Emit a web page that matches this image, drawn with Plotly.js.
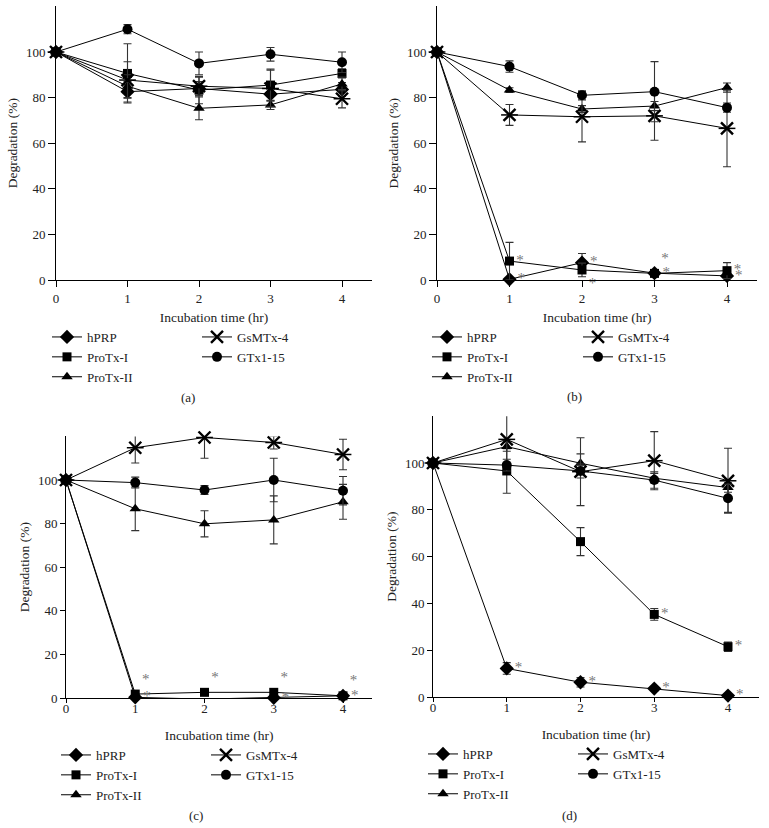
<!DOCTYPE html>
<html><head><meta charset="utf-8">
<script src="https://cdn.plot.ly/plotly-3.0.1.min.js"></script>
<style>html,body{margin:0;padding:0;background:#fff}#chart{width:769px;height:828px}</style>
</head><body><div id="chart"></div>
<script>
// ---------------- DATA ----------------
const times = [0, 1, 2, 3, 4];
const seriesNames = ['hPRP', 'ProTx-I', 'ProTx-II', 'GsMTx-4', 'GTx1-15'];
const panelLabels = ['(a)', '(b)', '(c)', '(d)'];
const xTitle = 'Incubation time (hr)';
const yTitle = 'Degradation (%)';
const yTicks = [0, 20, 40, 60, 80, 100];

// panel (a)
const a_hPRP      = [100, 82.6, 84.0, 81.5, 83.6];
const a_hPRP_err  = [0, 4.5, 3, 3, 3];
const a_ProTxI    = [100, 90.6, 83.3, 85.5, 90.6];
const a_ProTxI_err= [0, 13, 6, 7, 2];
const a_ProTxII   = [100, 85.0, 75.3, 76.8, 86.0];
const a_ProTxII_err=[0, 5, 5, 2, 3];
const a_GsMTx4    = [100, 87.7, 85.0, 84.0, 79.5];
const a_GsMTx4_err= [0, 8, 4, 8, 4];
const a_GTx       = [100, 110.0, 95.0, 99.0, 95.5];
const a_GTx_err   = [0, 2, 5, 3, 4.5];
const a_hPRP_sig  = ['', '', '', '', ''];
const a_ProTxI_sig= ['', '', '', '', ''];

// panel (b)
const b_hPRP      = [100, 0.3, 7.6, 3.0, 1.8];
const b_hPRP_err  = [0, 0, 4, 0.5, 1];
const b_ProTxI    = [100, 8.3, 4.4, 2.9, 4.1];
const b_ProTxI_err= [0, 8.2, 3, 0.5, 3.5];
const b_ProTxII   = [100, 83.3, 75.0, 76.3, 84.4];
const b_ProTxII_err=[0, 1, 1.5, 2, 2];
const b_GsMTx4    = [100, 72.4, 71.6, 72.0, 66.5];
const b_GsMTx4_err= [0, 4.6, 11, 10.7, 16.8];
const b_GTx       = [100, 93.6, 81.0, 82.6, 75.6];
const b_GTx_err   = [0, 2.5, 2, 13.2, 2];
const b_hPRP_sig  = ['', '*', '*', '*', '*'];
const b_ProTxI_sig= ['', '*', '*', '*', '*'];

// panel (c)
const c_hPRP      = [100, 0.3, -0.5, 0.1, 1.0];
const c_hPRP_err  = [0, 0, 0, 0, 0];
const c_ProTxI    = [100, 1.8, 2.6, 2.6, 1.0];
const c_ProTxI_err= [0, 0, 0, 0, 0];
const c_ProTxII   = [100, 86.8, 79.9, 81.7, 90.0];
const c_ProTxII_err=[0, 10, 6, 11, 8];
const c_GsMTx4    = [100, 114.8, 119.5, 117.2, 111.7];
const c_GsMTx4_err= [0, 7, 9.5, 3, 7];
const c_GTx       = [100, 98.8, 95.4, 100.0, 95.1];
const c_GTx_err   = [0, 2.5, 2, 10, 6.5];
const c_hPRP_sig  = ['', '*', '*', '*', '*'];
const c_ProTxI_sig= ['', '*', '*', '*', '*'];

// panel (d)
const d_hPRP      = [100, 12.2, 6.3, 3.6, 0.6];
const d_hPRP_err  = [0, 2.5, 2, 1, 0.5];
const d_ProTxI    = [100, 96.6, 66.4, 35.3, 21.5];
const d_ProTxI_err= [0, 9.5, 6, 2.5, 2];
const d_ProTxII   = [100, 107.0, 99.9, 93.5, 89.5];
const d_ProTxII_err=[0, 2, 4, 2, 2];
const d_GsMTx4    = [100, 110.1, 96.3, 101.0, 92.4];
const d_GsMTx4_err= [0, 10.3, 14.5, 12.4, 13.9];
const d_GTx       = [100, 99.1, 96.6, 92.7, 84.9];
const d_GTx_err   = [0, 2.5, 3, 3.5, 6];
const d_hPRP_sig  = ['', '*', '*', '*', '*'];
const d_ProTxI_sig= ['', '', '', '*', '*'];

// ---------------- STYLE / LAYOUT ----------------
const W = 769, H = 828;
const FONT = 'Liberation Serif, Times New Roman, serif';
const symbols = ['diamond', 'square', 'triangle-up', 'x-thin-open', 'circle'];
const msizes  = [11, 9, 10, 12, 10];

// star positions (style) per panel: [hPRP, ProTx-I]
const starPos = [
  [['middle right','middle right','middle right','middle right','middle right'],
   ['middle right','middle right','middle right','middle right','middle right']],
  [['middle right','middle right','middle right','middle right','middle right'],
   ['middle right','middle right','bottom right','top right','middle right']],
  [['middle right','middle right','middle right','middle right','middle right'],
   ['top right','top right','top right','top right','top right']],
  [['middle right','middle right','middle right','middle right','middle right'],
   ['middle right','middle right','middle right','middle right','middle right']]
];

// pixel geometry of each panel
const geo = [
  {x0: 56,  ux: 71.5,  y0: 280, uy: 2.28, xtl: 6, ytl: 7, xls: 0,  xstand: 7,  ystand: 5, legL: 68,  legR: 218, legY: 341, lab: [188, 397]},
  {x0: 437, ux: 72.5,  y0: 280, uy: 2.28, xtl: 6, ytl: 7, xls: 0,  xstand: 7,  ystand: 5, legL: 448, legR: 599, legY: 341, lab: [574, 396]},
  {x0: 66,  ux: 69.25, y0: 698, uy: 2.18, xtl: 4, ytl: 5, xls: -6, xstand: 15, ystand: 5, legL: 77,  legR: 227, legY: 759, lab: [196, 815]},
  {x0: 433, ux: 73.75, y0: 697, uy: 2.34, xtl: 4, ytl: 5, xls: -6, xstand: 15, ystand: 5, legL: 444, legR: 594, legY: 758, lab: [569, 815]}
];
const XMAX = 4.42, YMAX = 120;

const panels = [
  {vals: [a_hPRP, a_ProTxI, a_ProTxII, a_GsMTx4, a_GTx], errs: [a_hPRP_err, a_ProTxI_err, a_ProTxII_err, a_GsMTx4_err, a_GTx_err], sig: [a_hPRP_sig, a_ProTxI_sig]},
  {vals: [b_hPRP, b_ProTxI, b_ProTxII, b_GsMTx4, b_GTx], errs: [b_hPRP_err, b_ProTxI_err, b_ProTxII_err, b_GsMTx4_err, b_GTx_err], sig: [b_hPRP_sig, b_ProTxI_sig]},
  {vals: [c_hPRP, c_ProTxI, c_ProTxII, c_GsMTx4, c_GTx], errs: [c_hPRP_err, c_ProTxI_err, c_ProTxII_err, c_GsMTx4_err, c_GTx_err], sig: [c_hPRP_sig, c_ProTxI_sig]},
  {vals: [d_hPRP, d_ProTxI, d_ProTxII, d_GsMTx4, d_GTx], errs: [d_hPRP_err, d_ProTxI_err, d_ProTxII_err, d_GsMTx4_err, d_GTx_err], sig: [d_hPRP_sig, d_ProTxI_sig]}
];

const traces = [];
const layout = {
  width: W, height: H,
  margin: {l: 0, r: 0, t: 0, b: 0},
  paper_bgcolor: '#fff', plot_bgcolor: 'rgba(0,0,0,0)',
  font: {family: FONT, size: 13, color: '#222'},
  showlegend: true,
  annotations: []
};

panels.forEach((p, i) => {
  const g = geo[i];
  const n = i === 0 ? '' : String(i + 1);
  const xa = 'x' + n, ya = 'y' + n;
  const legL = i === 0 ? 'legend' : 'legend' + (2 * i + 1);
  const legR = 'legend' + (2 * i + 2);

  layout['xaxis' + n] = {
    domain: [g.x0 / W, (g.x0 + XMAX * g.ux) / W], anchor: ya,
    range: [0, XMAX], tickvals: times, ticktext: times.map(String),
    ticks: 'outside', ticklen: g.xtl, tickwidth: 1, tickcolor: '#000',
    ticklabelstandoff: g.xls,
    showline: true, linecolor: '#000', linewidth: 1,
    showgrid: false, zeroline: false, fixedrange: true,
    tickfont: {family: FONT, size: 13, color: '#222'},
    title: {text: xTitle, font: {family: FONT, size: 13.5, color: '#222'}, standoff: g.xstand}
  };
  layout['yaxis' + n] = {
    domain: [1 - g.y0 / H, 1 - (g.y0 - YMAX * g.uy) / H], anchor: xa,
    range: [0, YMAX], tickvals: yTicks,
    ticks: 'outside', ticklen: g.ytl, tickwidth: 1, tickcolor: '#000',
    showline: true, linecolor: '#000', linewidth: 1,
    showgrid: false, zeroline: false, fixedrange: true,
    tickfont: {family: FONT, size: 13, color: '#222'},
    title: {text: yTitle, font: {family: FONT, size: 13.5, color: '#222'}, standoff: g.ystand}
  };
  const legCommon = {
    bgcolor: 'rgba(0,0,0,0)', borderwidth: 0, orientation: 'v',
    font: {family: FONT, size: 13, color: '#222'},
    xanchor: 'left', yanchor: 'top', traceorder: 'normal', itemclick: false
  };
  layout[legL] = Object.assign({}, legCommon, {x: (g.legL - 21) / W, y: 1 - (g.legY - 4 - 15) / H});
  layout[legR] = Object.assign({}, legCommon, {x: (g.legR - 21) / W, y: 1 - (g.legY - 4 - 15) / H});

  layout.annotations.push({
    xref: 'paper', yref: 'paper', x: g.lab[0] / W, y: 1 - g.lab[1] / H,
    xanchor: 'center', yanchor: 'middle', showarrow: false,
    text: panelLabels[i], font: {family: FONT, size: 13, color: '#222'}
  });

  seriesNames.forEach((name, s) => {
    traces.push({
      type: 'scatter', mode: 'lines+markers', name: name,
      x: times, y: p.vals[s], xaxis: xa, yaxis: ya,
      legend: s < 3 ? legL : legR,
      cliponaxis: false,
      line: {color: '#000', width: 1},
      marker: {symbol: symbols[s], size: msizes[s], color: '#000',
               line: {color: '#000', width: s === 3 ? 2.4 : 0}},
      error_y: {type: 'data', array: p.errs[s], visible: true, color: '#333', thickness: 1.1, width: 4},
      hoverinfo: 'x+y+name'
    });
    if (s === 3) {
      traces.push({
        type: 'scatter', mode: 'markers', x: times, y: p.vals[s], xaxis: xa, yaxis: ya,
        showlegend: false, cliponaxis: false, hoverinfo: 'skip',
        marker: {symbol: 'line-ew-open', size: 12, color: '#000', line: {color: '#000', width: 1.5}}
      });
    }
  });
  // significance stars for hPRP and ProTx-I
  [0, 1].forEach(s => {
    traces.push({
      type: 'scatter', mode: 'markers+text', x: times, y: p.vals[s], xaxis: xa, yaxis: ya,
      text: p.sig[s], textposition: starPos[i][s],
      textfont: {family: FONT, size: 15, color: '#777'},
      marker: {size: msizes[s], opacity: 0},
      showlegend: false, cliponaxis: false, hoverinfo: 'skip'
    });
  });
});

Plotly.newPlot('chart', traces, layout, {displayModeBar: false, staticPlot: true});
</script>
</body></html>
